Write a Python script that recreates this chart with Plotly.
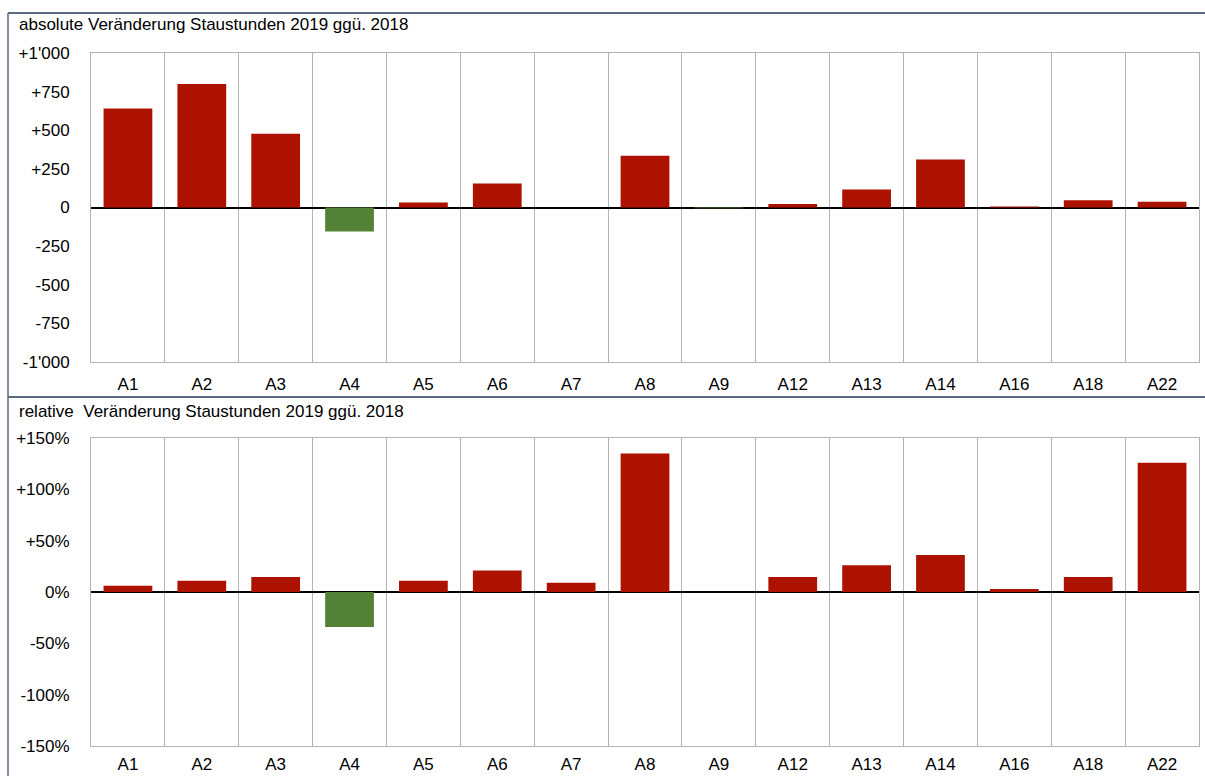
import plotly.graph_objects as go

categories = ["A1", "A2", "A3", "A4", "A5", "A6", "A7", "A8", "A9", "A12", "A13", "A14", "A16", "A18", "A22"]
abs_change = [640, 800, 477, -155, 32, 155, 0, 335, -5, 22, 116, 310, 6, 47, 37]
rel_change = [6, 11, 14.5, -34, 11, 21, 9, 135, 0, 14.5, 26, 36, 3, 14.5, 126]

abs_ticks = [1000, 750, 500, 250, 0, -250, -500, -750, -1000]
abs_ticktext = ["+1'000", "+750", "+500", "+250", "0", "-250", "-500", "-750", "-1'000"]
rel_ticks = [150, 100, 50, 0, -50, -100, -150]
rel_ticktext = ["+150%", "+100%", "+50%", "0%", "-50%", "-100%", "-150%"]

title_abs = "absolute Veränderung Staustunden 2019 ggü. 2018"
title_rel = "relative  Veränderung Staustunden 2019 ggü. 2018"

RED = "#AD1200"
GREEN = "#538135"
GRID = "#b3b3b3"
FRAME = "#5a6b80"
FONT = "Liberation Sans, Arial, sans-serif"
FS = 17
W, H = 1205, 776


def colors(vals):
    return [RED if v >= 0 else GREEN for v in vals]


fig = go.Figure()
fig.add_trace(go.Bar(x=categories, y=abs_change, marker=dict(color=colors(abs_change), line=dict(width=0)),
                     xaxis="x", yaxis="y", showlegend=False, hoverinfo="skip"))
fig.add_trace(go.Bar(x=categories, y=rel_change, marker=dict(color=colors(rel_change), line=dict(width=0)),
                     xaxis="x2", yaxis="y2", showlegend=False, hoverinfo="skip"))


def px_x(p):
    return p / W


def px_y(p):
    return 1 - p / H


xdom = [px_x(91), px_x(1199)]
common_x = dict(type="category", tickson="boundaries", showgrid=True, gridcolor=GRID, gridwidth=1,
                showline=True, linecolor=GRID, linewidth=1, mirror=True, ticks="", automargin=False,
                tickfont=dict(family=FONT, size=FS, color="#000"), fixedrange=True)
common_y = dict(showgrid=False, zeroline=True, zerolinecolor="#000", zerolinewidth=2,
                showline=True, linecolor=GRID, linewidth=1, mirror=True, ticks="", automargin=False,
                tickfont=dict(family=FONT, size=FS, color="#000"), ticklabelstandoff=17, fixedrange=True)

fig.update_layout(
    width=W, height=H,
    margin=dict(l=0, r=0, t=0, b=0, pad=0),
    paper_bgcolor="white", plot_bgcolor="white",
    bargap=0.34,
    font=dict(family=FONT, size=FS, color="#000"),
    xaxis=dict(domain=xdom, anchor="y", ticklabelstandoff=7, **common_x),
    yaxis=dict(domain=[px_y(362), px_y(53)], anchor="x", range=[-1000, 1000],
               tickvals=abs_ticks, ticktext=abs_ticktext, **common_y),
    xaxis2=dict(domain=xdom, anchor="y2", ticklabelstandoff=3, **common_x),
    yaxis2=dict(domain=[px_y(746), px_y(438)], anchor="x2", range=[-150, 150],
                tickvals=rel_ticks, ticktext=rel_ticktext, **common_y),
    annotations=[
        dict(text=title_abs, x=px_x(17), y=px_y(24), xref="paper", yref="paper", xanchor="left",
             yanchor="middle", showarrow=False, font=dict(family=FONT, size=FS, color="#000")),
        dict(text=title_rel, x=px_x(17), y=px_y(411), xref="paper", yref="paper", xanchor="left",
             yanchor="middle", showarrow=False, font=dict(family=FONT, size=FS, color="#000")),
    ],
    shapes=[
        dict(type="line", xref="paper", yref="paper", x0=px_x(8), x1=1, y0=px_y(13), y1=px_y(13),
             line=dict(color=FRAME, width=2)),
        dict(type="line", xref="paper", yref="paper", x0=px_x(8), x1=1, y0=px_y(397), y1=px_y(397),
             line=dict(color=FRAME, width=2)),
        dict(type="line", xref="paper", yref="paper", x0=px_x(8), x1=px_x(8), y0=px_y(13), y1=0,
             line=dict(color=FRAME, width=1.5)),
    ],
)

post = "document.body.style.margin='0';document.body.style.overflow='hidden';"

fig.write_html("out.html", config={"displayModeBar": False, "staticPlot": True}, post_script=post)
